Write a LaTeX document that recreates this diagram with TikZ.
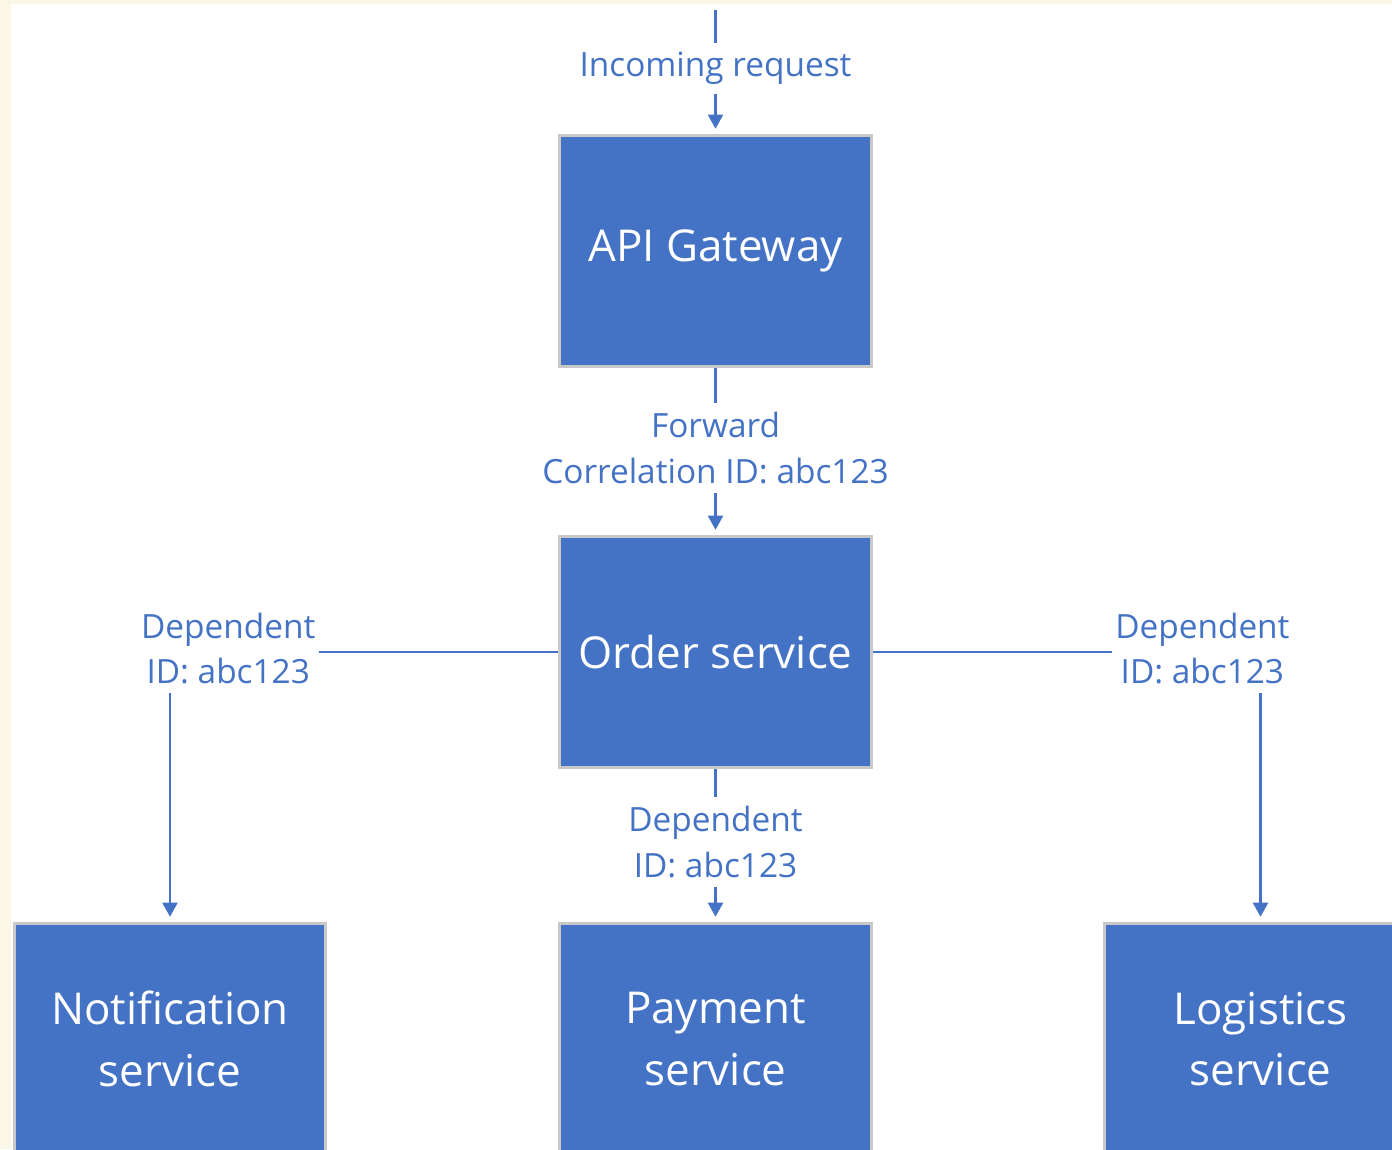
\documentclass[tikz,border=0pt]{standalone}
\usepackage{fontspec}
\setmainfont{Open Sans}
\usetikzlibrary{arrows.meta}
\definecolor{boxblue}{HTML}{4472C4}
\definecolor{boxgray}{HTML}{C8C8C8}
\definecolor{cream}{HTML}{FAF7E6}

\begin{document}
\begin{tikzpicture}[x=0.02cm, y=-0.02cm,
	svc/.style={draw=boxgray, line width=1.7pt, fill=boxblue, text=white, align=center,
		minimum width=6.24cm, minimum height=4.62cm, inner sep=0pt,
		font=\fontsize{25}{35}\selectfont},
	lbl/.style={fill=white, text=boxblue, align=center, inner xsep=2pt, inner ysep=5pt,
		font=\fontsize{19}{26}\selectfont},
	link/.style={draw=boxblue, line width=1.3pt, shorten >=3pt,
		-{Triangle[length=8pt,width=8.5pt]}}]
	\fill[cream] (0,0) rectangle (1392,1149);
	\fill[white] (11,4) rectangle (1392,1149);
	\useasboundingbox (0,0) rectangle (1392,1149);
	\clip (0,0) rectangle (1392,1149);

	\node[svc] (api) at (715.5,251) {API Gateway};
	\node[svc] (order) at (715.5,652) {Order service};
	\node[svc] (notif) at (170,1039) {Notification\\service};
	\node[svc] (pay) at (715.5,1039) {Payment\\service};
	\node[svc] (logi) at (1260.5,1039) {Logistics\\service};

	\coordinate (in) at (715.5,10);
	\draw[link] (in) -- node[lbl, yshift=2pt] (inlbl) {Incoming request} (api);
	\draw[link] (api) -- node[lbl, yshift=2pt] (fwdlbl) {Forward\\Correlation ID: abc123} (order);
	\draw[link] (order) -- node[lbl, yshift=2pt] (paylbl) {Dependent\\ID: abc123} (pay);
	\draw[link] (order.west) -| node[lbl, pos=0.425, yshift=2pt] (notiflbl) {Dependent\\ID: abc123} (notif.north);
	\draw[link] (order.east) -| node[lbl, pos=0.425, yshift=2pt] (logilbl) {Dependent\\ID: abc123} (logi.north);
\end{tikzpicture}
\end{document}
